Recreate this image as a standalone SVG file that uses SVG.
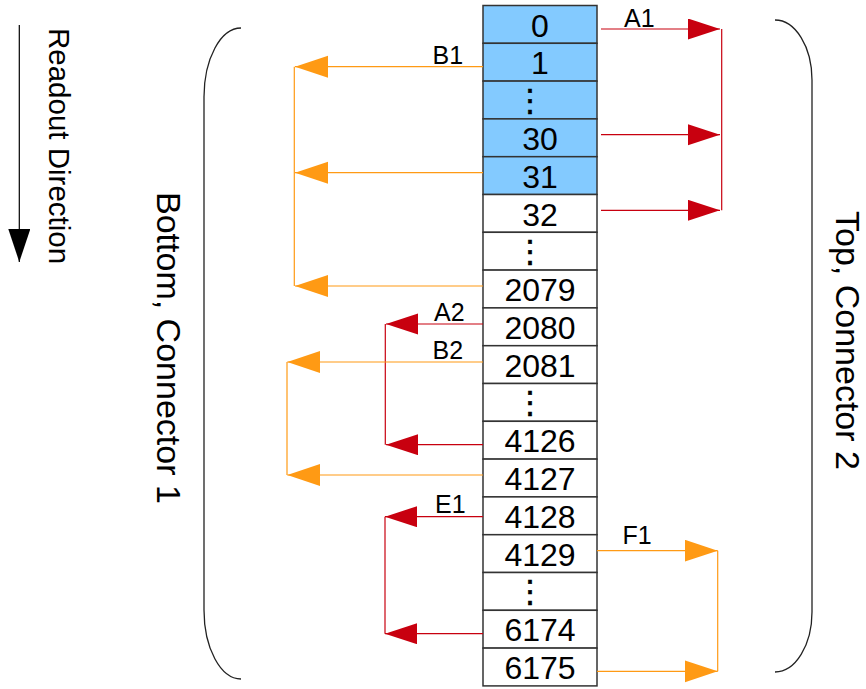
<svg xmlns="http://www.w3.org/2000/svg" width="866" height="689" viewBox="0 0 866 689">
<style>
.cell{fill:#ffffff;stroke:#333333;stroke-width:1.5}
.blue{fill:#83caff}
.num{font-family:"Liberation Sans",Arial,sans-serif;font-size:32px;fill:#000;text-anchor:middle}
.dots{font-family:"DejaVu Sans",sans-serif;font-size:31px;fill:#000;stroke:#000;stroke-width:0.6;text-anchor:middle}
.lbl{font-family:"Liberation Sans",Arial,sans-serif;font-size:25px;fill:#000}
.side{font-family:"Liberation Sans",Arial,sans-serif;font-size:34px;fill:#000}
.red{stroke:#c8000f;stroke-width:1.2;fill:none}
.org{stroke:#ff9a14;stroke-width:1.2;fill:none}
.brace{stroke:#222;stroke-width:1.3;fill:none}
</style>
<defs>
<marker id="hr" markerUnits="userSpaceOnUse" markerWidth="33" markerHeight="22" refX="32" refY="10.5" orient="auto"><path d="M0,0 L32,10.5 L0,21 z" fill="#c8000f"/></marker>
<marker id="ho" markerUnits="userSpaceOnUse" markerWidth="34" markerHeight="23" refX="33" refY="11" orient="auto"><path d="M0,0 L33,11 L0,22 z" fill="#ff9a14"/></marker>
<marker id="hk" markerUnits="userSpaceOnUse" markerWidth="34" markerHeight="23" refX="33" refY="11" orient="auto"><path d="M0,0 L33,11 L0,22 z" fill="#000"/></marker>
</defs>

<g id="readout">
<line x1="19.3" y1="25" x2="19.3" y2="262" stroke="#000" stroke-width="1.2" marker-end="url(#hk)"/>
<text class="side" style="font-size:29.5px" transform="translate(49.3,28) rotate(90)">Readout Direction</text>
</g>

<g id="brace-left">
<path class="brace" d="M241,28 A37,69 0 0 0 204,97 L204,610 A37,69 0 0 0 241,679"/>
<text class="side" transform="translate(156.5,192) rotate(90)">Bottom, Connector 1</text>
</g>
<g id="brace-right">
<path class="brace" d="M775,20 A37,60 0 0 1 812,80 L812,612 A37,60 0 0 1 775,672"/>
<text class="side" transform="translate(835.5,211) rotate(90)">Top, Connector 2</text>
</g>

<g id="cells">
<g id="c0"><rect class="cell blue" x="483" y="5.5" width="114" height="37.8"/><text class="num" x="540" y="36.5">0</text></g>
<g id="c1"><rect class="cell blue" x="483" y="43.3" width="114" height="37.8"/><text class="num" x="540" y="74.3">1</text></g>
<g id="c2"><rect class="cell blue" x="483" y="81.1" width="114" height="37.8"/><text class="dots" x="530" y="111">⋮</text></g>
<g id="c30"><rect class="cell blue" x="483" y="118.9" width="114" height="37.8"/><text class="num" x="540" y="149.9">30</text></g>
<g id="c31"><rect class="cell blue" x="483" y="156.7" width="114" height="37.8"/><text class="num" x="540" y="187.7">31</text></g>
<g id="c32"><rect class="cell" x="483" y="194.5" width="114" height="37.8"/><text class="num" x="540" y="225.5">32</text></g>
<g id="c6"><rect class="cell" x="483" y="232.3" width="114" height="37.8"/><text class="dots" x="530" y="262.2">⋮</text></g>
<g id="c2079"><rect class="cell" x="483" y="270.1" width="114" height="37.8"/><text class="num" x="540" y="301.1">2079</text></g>
<g id="c2080"><rect class="cell" x="483" y="307.9" width="114" height="37.8"/><text class="num" x="540" y="338.9">2080</text></g>
<g id="c2081"><rect class="cell" x="483" y="345.7" width="114" height="37.8"/><text class="num" x="540" y="376.7">2081</text></g>
<g id="c10"><rect class="cell" x="483" y="383.5" width="114" height="37.8"/><text class="dots" x="530" y="413.4">⋮</text></g>
<g id="c4126"><rect class="cell" x="483" y="421.3" width="114" height="37.8"/><text class="num" x="540" y="452.3">4126</text></g>
<g id="c4127"><rect class="cell" x="483" y="459.1" width="114" height="37.8"/><text class="num" x="540" y="490.1">4127</text></g>
<g id="c4128"><rect class="cell" x="483" y="496.9" width="114" height="37.8"/><text class="num" x="540" y="527.9">4128</text></g>
<g id="c4129"><rect class="cell" x="483" y="534.7" width="114" height="37.8"/><text class="num" x="540" y="565.7">4129</text></g>
<g id="c15"><rect class="cell" x="483" y="572.5" width="114" height="37.8"/><text class="dots" x="530" y="602.4">⋮</text></g>
<g id="c6174"><rect class="cell" x="483" y="610.3" width="114" height="37.8"/><text class="num" x="540" y="641.3">6174</text></g>
<g id="c6175"><rect class="cell" x="483" y="648.1" width="114" height="37.8"/><text class="num" x="540" y="679.1">6175</text></g>
</g>

<g id="connectors">
<g id="A1">
<line class="red" x1="601" y1="29" x2="720" y2="29" marker-end="url(#hr)"/>
<line class="red" x1="601" y1="134.7" x2="720" y2="134.7" marker-end="url(#hr)"/>
<line class="red" x1="601" y1="210.3" x2="720" y2="210.3" marker-end="url(#hr)"/>
<line class="red" x1="721.7" y1="29" x2="721.7" y2="210.3"/>
<text class="lbl" x="624" y="27">A1</text>
</g>
<g id="B1">
<line class="org" x1="483" y1="66.7" x2="295" y2="66.7" marker-end="url(#ho)"/>
<line class="org" x1="483" y1="172.7" x2="295" y2="172.7" marker-end="url(#ho)"/>
<line class="org" x1="483" y1="286" x2="295" y2="286" marker-end="url(#ho)"/>
<line class="org" x1="294.3" y1="66.7" x2="294.3" y2="286"/>
<text class="lbl" x="432.5" y="64">B1</text>
</g>
<g id="A2">
<line class="red" x1="483" y1="324" x2="386" y2="324" marker-end="url(#hr)"/>
<line class="red" x1="483" y1="444.7" x2="386" y2="444.7" marker-end="url(#hr)"/>
<line class="red" x1="385.3" y1="324" x2="385.3" y2="444.7"/>
<text class="lbl" x="434" y="320.7">A2</text>
</g>
<g id="B2">
<line class="org" x1="483" y1="362" x2="287.3" y2="362" marker-end="url(#ho)"/>
<line class="org" x1="483" y1="475" x2="287.3" y2="475" marker-end="url(#ho)"/>
<line class="org" x1="287" y1="362" x2="287" y2="475"/>
<text class="lbl" x="432.5" y="358.7">B2</text>
</g>
<g id="E1">
<line class="red" x1="483" y1="516.7" x2="385" y2="516.7" marker-end="url(#hr)"/>
<line class="red" x1="483" y1="633.7" x2="385" y2="633.7" marker-end="url(#hr)"/>
<line class="red" x1="385" y1="516.7" x2="385" y2="633.7"/>
<text class="lbl" x="435" y="513.3">E1</text>
</g>
<g id="F1">
<line class="org" x1="597" y1="550.7" x2="717.7" y2="550.7" marker-end="url(#ho)"/>
<line class="org" x1="597" y1="671.3" x2="717.7" y2="671.3" marker-end="url(#ho)"/>
<line class="org" x1="717.7" y1="550.7" x2="717.7" y2="671.3"/>
<text class="lbl" x="622.5" y="544.3">F1</text>
</g>
</g>
</svg>
